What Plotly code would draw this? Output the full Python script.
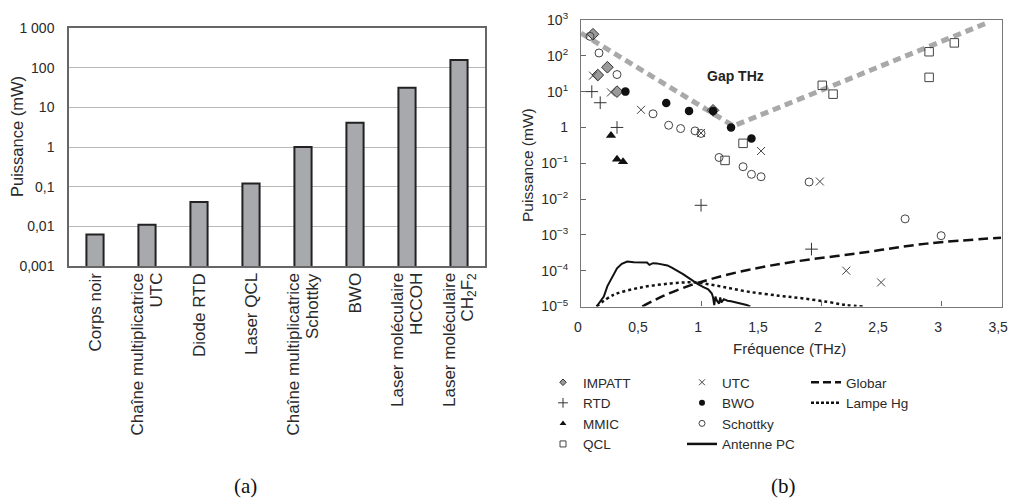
import plotly.graph_objects as go

# ---------------- data: panel (a) ----------------
sources = ["Corps noir", "Chaîne multiplicatrice UTC", "Diode RTD", "Laser QCL",
           "Chaîne multiplicatrice Schottky", "BWO", "Laser moléculaire HCCOH",
           "Laser moléculaire CH2F2"]
source_lines = [["Corps noir"], ["Chaîne multiplicatrice", "UTC"], ["Diode RTD"], ["Laser QCL"],
                ["Chaîne multiplicatrice", "Schottky"], ["BWO"], ["Laser moléculaire", "HCCOH"],
                ["Laser moléculaire", "CH<sub>2</sub>F<sub>2</sub>"]]
power_mw = [0.0062, 0.011, 0.041, 0.12, 1.0, 4.1, 31, 155]
ya_tickvals = [0.001, 0.01, 0.1, 1, 10, 100, 1000]
ya_ticktext = ["0,001", "0,01", "0,1", "1", "10", "100", "1 000"]

# ---------------- data: panel (b) ----------------
impatt_x = [0.10, 0.22, 0.14, 0.30, 1.10]
impatt_y = [400, 48, 29, 10, 3.0]
rtd_x = [0.09, 0.16, 0.30, 1.00, 1.92]
rtd_y = [10, 4.9, 1.0, 0.0067, 4.0e-4]
mmic_x = [0.25, 0.30, 0.35]
mmic_y = [0.6, 0.13, 0.11]
qcl_x = [1.35, 1.20, 2.01, 2.10, 2.90, 2.90, 3.11]
qcl_y = [0.36, 0.12, 15, 8.5, 130, 25, 230]
utc_x = [0.10, 0.25, 0.50, 1.00, 1.50, 1.99, 2.21, 2.50]
utc_y = [28, 9.5, 3.1, 0.7, 0.22, 0.031, 1.0e-4, 4.7e-5]
bwo_x = [0.37, 0.71, 0.90, 1.25, 1.42]
bwo_y = [10, 4.8, 2.9, 1.0, 0.49]
schottky_x = [0.075, 0.15, 0.30, 0.60, 0.73, 0.83, 0.95, 1.00, 1.15, 1.35, 1.42, 1.50, 1.90, 2.70, 3.00]
schottky_y = [350, 120, 30, 2.4, 1.15, 0.93, 0.8, 0.68, 0.145, 0.08, 0.049, 0.042, 0.03, 0.0028, 0.00095]

antenne_x = [0.13, 0.16, 0.19, 0.22, 0.26, 0.30, 0.34, 0.385, 0.44, 0.50, 0.55, 0.57, 0.60, 0.63,
             0.68, 0.72, 0.76, 0.805, 0.85, 0.89, 0.93, 0.974, 1.02, 1.06, 1.09, 1.10, 1.11, 1.12,
             1.13, 1.15, 1.16, 1.17, 1.19, 1.22, 1.25, 1.30, 1.34, 1.38, 1.41]
antenne_y = [1.0e-5, 1.4e-5, 1.9e-5, 3.7e-5, 6.5e-5, 1.17e-4, 1.55e-4, 1.8e-4, 1.72e-4, 1.75e-4,
             1.7e-4, 1.45e-4, 1.62e-4, 1.6e-4, 1.5e-4, 1.4e-4, 1.2e-4, 1.0e-4, 8.0e-5, 6.5e-5,
             5.2e-5, 4.2e-5, 3.5e-5, 3.0e-5, 2.3e-5, 1.8e-5, 1.1e-5, 1.9e-5, 1.5e-5, 1.2e-5,
             1.8e-5, 1.3e-5, 1.6e-5, 1.45e-5, 1.4e-5, 1.3e-5, 1.2e-5, 1.1e-5, 1.0e-5]
hg_x = [0.13, 0.27, 0.50, 0.75, 0.95, 1.17, 1.39, 1.65, 1.84, 2.05, 2.21, 2.36]
hg_y = [1.0e-5, 2.1e-5, 3.4e-5, 4.4e-5, 4.7e-5, 3.6e-5, 2.6e-5, 2.0e-5, 1.7e-5, 1.35e-5, 1.1e-5, 1.0e-5]
globar_x = [0.51, 0.69, 0.92, 1.11, 1.39, 1.76, 2.32, 2.88, 3.50]
globar_y = [1.0e-5, 2.0e-5, 4.0e-5, 6.2e-5, 1.05e-4, 1.75e-4, 3.1e-4, 5.7e-4, 8.3e-4]
gap_x = [0.0, 1.27, 3.39]
gap_y = [430, 1.1, 850]

yb_tickvals = [1e-5, 1e-4, 1e-3, 1e-2, 1e-1, 1, 10, 100, 1000]
yb_ticktext = ["10<sup>−5</sup>", "10<sup>−4</sup>", "10<sup>−3</sup>", "10<sup>−2</sup>",
               "10<sup>−1</sup>", "1", "10<sup>1</sup>", "10<sup>2</sup>", "10<sup>3</sup>"]
xb_tickvals = [0, 0.5, 1, 1.5, 2, 2.5, 3, 3.5]
xb_ticktext = ["0", "0,5", "1", "1,5", "2", "2,5", "3", "3,5"]

# ---------------- layout helpers ----------------
W, H = 1010, 498
FONT = "Liberation Sans, Arial, sans-serif"
TXT = "#2a2a2a"


def fx(p):
    return p / W


def fy(p):
    return 1 - p / H


fig = go.Figure()

# panel (a) bars
fig.add_trace(go.Bar(x=sources, y=power_mw, width=0.33, xaxis="x", yaxis="y",
                     marker=dict(color="#a7a9ac", line=dict(color="#222", width=2)),
                     showlegend=False))

# panel (b)
fig.add_trace(go.Scatter(x=gap_x, y=gap_y, mode="lines", xaxis="x2", yaxis="y2",
                         line=dict(color="#a9a9a9", width=5, dash="8px,5px"), showlegend=False))
fig.add_trace(go.Scatter(x=globar_x, y=globar_y, mode="lines", xaxis="x2", yaxis="y2",
                         line=dict(color="#111", width=2.5, dash="10px,5px", shape="spline"),
                         showlegend=False))
fig.add_trace(go.Scatter(x=hg_x, y=hg_y, mode="lines", xaxis="x2", yaxis="y2",
                         line=dict(color="#111", width=2.5, dash="3px,3px", shape="spline"),
                         showlegend=False))
fig.add_trace(go.Scatter(x=antenne_x, y=antenne_y, mode="lines", xaxis="x2", yaxis="y2",
                         line=dict(color="#111", width=2), showlegend=False))

marker_specs = [
    ("IMPATT", impatt_x, impatt_y, dict(symbol="diamond", size=9, color="#9a9a9a", line=dict(color="#333", width=1)), "legend", 5),
    ("RTD", rtd_x, rtd_y, dict(symbol="cross-thin", size=9, color="#333", line=dict(color="#333", width=1)), "legend", 7),
    ("MMIC", mmic_x, mmic_y, dict(symbol="triangle-up", size=9, color="#111", line=dict(width=0)), "legend", 6),
    ("QCL", qcl_x, qcl_y, dict(symbol="square-open", size=8.5, color="#444", line=dict(color="#444", width=1)), "legend", 6),
    ("UTC", utc_x, utc_y, dict(symbol="x-thin", size=8, color="#444", line=dict(color="#444", width=1)), "legend2", 6),
    ("BWO", bwo_x, bwo_y, dict(symbol="circle", size=8.5, color="#111", line=dict(width=0)), "legend2", 6),
    ("Schottky", schottky_x, schottky_y, dict(symbol="circle-open", size=8, color="#444", line=dict(color="#444", width=1)), "legend2", 6),
]
for name, xs, ys, mk, lg, ls in marker_specs:
    fig.add_trace(go.Scatter(x=xs, y=ys, mode="markers", xaxis="x2", yaxis="y2", marker=mk,
                             showlegend=False, name=name))
# BWO point half-covered by an IMPATT marker near 1.1 THz
fig.add_trace(go.Scatter(x=[1.10], y=[2.9], mode="markers", xaxis="x2", yaxis="y2",
                         marker=dict(symbol="circle", size=8.5, color="#111"), showlegend=False))

# legend entries (small symbols)
for name, xs, ys, mk, lg, ls in marker_specs:
    small = dict(mk)
    small["size"] = ls
    fig.add_trace(go.Scatter(x=[None], y=[None], mode="markers", xaxis="x2", yaxis="y2",
                             marker=small, name=name, legend=lg, showlegend=True))
fig.add_trace(go.Scatter(x=[None], y=[None], mode="lines", xaxis="x2", yaxis="y2",
                         line=dict(color="#111", width=2.5), name="Antenne PC", legend="legend2"))
fig.add_trace(go.Scatter(x=[None], y=[None], mode="lines", xaxis="x2", yaxis="y2",
                         line=dict(color="#111", width=2.5, dash="8px,4px"), name="Globar", legend="legend3"))
fig.add_trace(go.Scatter(x=[None], y=[None], mode="lines", xaxis="x2", yaxis="y2",
                         line=dict(color="#111", width=2.5, dash="3px,2px"), name="Lampe Hg", legend="legend3"))

# ---------------- annotations ----------------
ann = []
for cat, lines in zip(sources, source_lines):
    offs = [0] if len(lines) == 1 else [-10, 9]
    for ln, off in zip(lines, offs):
        ann.append(dict(x=cat, xref="x", y=fy(271), yref="paper", text=ln, showarrow=False,
                        textangle=-90, xanchor="center", yanchor="top", xshift=off,
                        font=dict(family=FONT, size=17, color=TXT)))
ann.append(dict(x=fx(17), y=fy(137), xref="paper", yref="paper", text="Puissance (mW)",
                xanchor="center", yanchor="middle",
                textangle=-90, showarrow=False, font=dict(family=FONT, size=16.5, color=TXT)))
ann.append(dict(x=fx(527), y=fy(165), xref="paper", yref="paper", text="Puissance (mW)",
                xanchor="center", yanchor="middle",
                textangle=-90, showarrow=False, font=dict(family=FONT, size=15.5, color=TXT)))
ann.append(dict(x=fx(789), y=fy(348), xref="paper", yref="paper", text="Fréquence (THz)",
                xanchor="center", yanchor="middle",
                showarrow=False, font=dict(family=FONT, size=15, color=TXT)))
ann.append(dict(x=1.29, y=1.43, xref="x2", yref="y2", text="<b>Gap THz</b>",
                xanchor="center", yanchor="middle",
                showarrow=False, font=dict(family=FONT, size=14, color="#222")))
ann.append(dict(x=fx(245), y=fy(486), xref="paper", yref="paper", text="(a)",
                xanchor="center", yanchor="middle",
                showarrow=False, font=dict(family="Liberation Serif, serif", size=21, color="#111")))
ann.append(dict(x=fx(783), y=fy(486), xref="paper", yref="paper", text="(b)",
                xanchor="center", yanchor="middle",
                showarrow=False, font=dict(family="Liberation Serif, serif", size=21, color="#111")))

legend_common = dict(font=dict(family=FONT, size=13.5, color=TXT), bgcolor="rgba(0,0,0,0)",
                     borderwidth=0, xanchor="left", yanchor="top", tracegroupgap=0,
                     itemclick=False, itemdoubleclick=False)

fig.update_layout(
    width=W, height=H, margin=dict(l=0, r=0, t=0, b=0),
    paper_bgcolor="white", plot_bgcolor="white",
    font=dict(family=FONT, size=14, color=TXT),
    xaxis=dict(domain=[fx(69), fx(485)], type="category", range=[-0.5, 7.5], automargin=False,
               showticklabels=False, ticks="", showgrid=False, zeroline=False,
               showline=True, linecolor="#666", linewidth=1.5, mirror=True, anchor="y"),
    yaxis=dict(domain=[fy(266), fy(28)], type="log", range=[-3, 3], tickvals=ya_tickvals,
               ticktext=ya_ticktext, ticks="", ticklabelstandoff=10, automargin=False,
               tickfont=dict(family=FONT, size=14, color=TXT),
               showgrid=True, gridcolor="#b8b8b8", gridwidth=1, zeroline=False,
               showline=True, linecolor="#666", linewidth=1.5, mirror=True, anchor="x"),
    xaxis2=dict(domain=[fx(581), fx(1001.5)], range=[0, 3.503], tickvals=xb_tickvals,
                ticktext=xb_ticktext, ticks="", ticklabelstandoff=8, automargin=False,
                ticklabeloverflow="allow", ticklabelshift=-3,
                tickfont=dict(family=FONT, size=14, color=TXT),
                minor=dict(tickvals=[1, 2, 3], ticks="inside", ticklen=5, tickcolor="#666",
                           showgrid=False),
                showgrid=False, zeroline=False, showline=True, linecolor="#777", linewidth=1.2,
                mirror=True, anchor="y2"),
    yaxis2=dict(domain=[fy(306.5), fy(20)], type="log", range=[-5, 3], tickvals=yb_tickvals,
                ticktext=yb_ticktext, ticks="inside", ticklen=5, tickcolor="#666",
                ticklabelstandoff=9, automargin=False, tickfont=dict(family=FONT, size=14, color=TXT),
                showgrid=False, zeroline=False, showline=True, linecolor="#777", linewidth=1.2,
                mirror=True, anchor="x2"),
    legend=dict(x=fx(543), y=fy(367), **legend_common),
    legend2=dict(x=fx(682), y=fy(367), **legend_common),
    legend3=dict(x=fx(806), y=fy(367), **legend_common),
    annotations=ann,
)

fig.write_html("out.html", config={"displayModeBar": False},
               post_script="document.body.style.margin='0';document.body.style.overflow='hidden';")
